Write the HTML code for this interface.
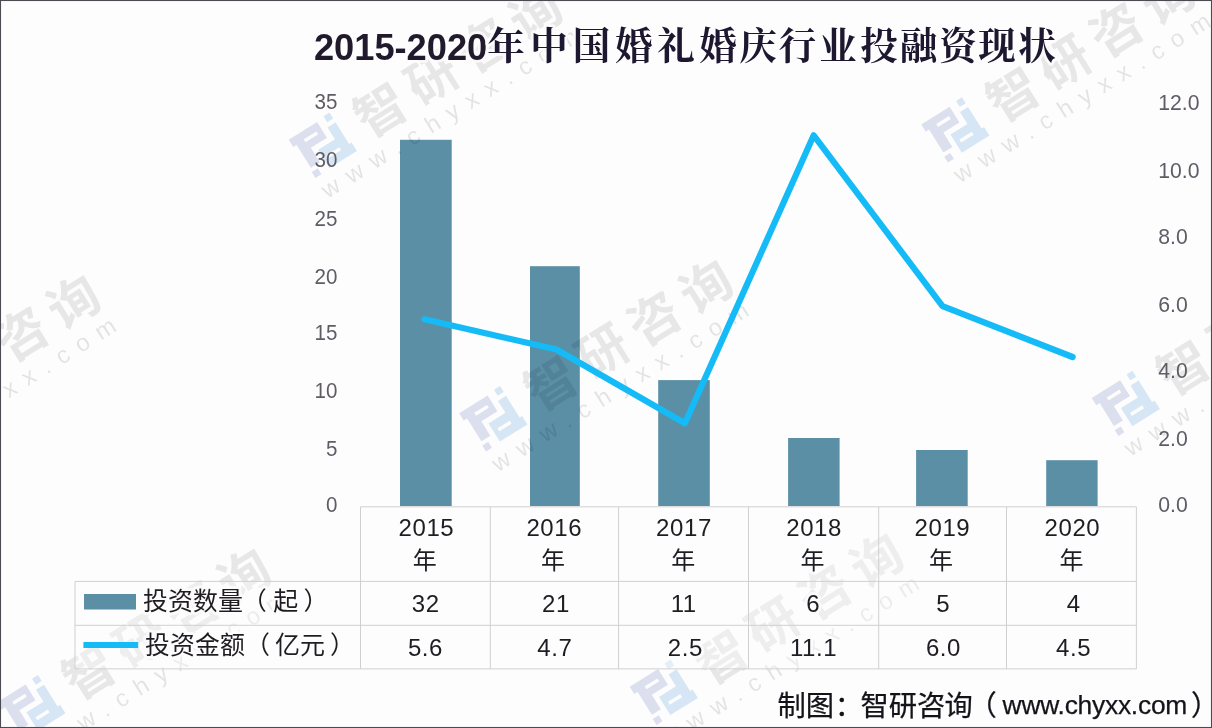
<!DOCTYPE html>
<html lang="zh-CN"><head><meta charset="utf-8"><title>2015-2020年中国婚礼婚庆行业投融资现状</title>
<style>
html,body{margin:0;padding:0;background:#fdfdfd;}
body{width:1212px;height:728px;overflow:hidden;position:relative;}
svg{position:absolute;left:0;top:0;display:block;}
.lat{font-family:"Liberation Sans",sans-serif;}
.cjk{font-family:"Liberation Sans","Noto Sans CJK SC",sans-serif;}
.ser{font-family:"Liberation Serif","Noto Serif CJK SC",serif;}
</style></head><body>
<svg width="1212" height="728" viewBox="0 0 1212 728" role="img" aria-label="2015-2020年中国婚礼婚庆行业投融资现状">
<rect x="0" y="0" width="1212" height="728" fill="#fdfdfd"/>
<g fill="#5a8fa6">
<rect x="400" y="139.8" width="51.7" height="366.2"/>
<rect x="530" y="266.2" width="49.8" height="239.8"/>
<rect x="658.2" y="380.1" width="51.6" height="125.9"/>
<rect x="788.1" y="438" width="51.5" height="68"/>
<rect x="916.1" y="450" width="51.6" height="56"/>
<rect x="1046.2" y="460.2" width="51.4" height="45.8"/>
</g>
<g>
<g transform="translate(322 145) rotate(-32)">
<path fill="rgb(42,68,162)" fill-opacity="0.16" fill-rule="evenodd" d="M-25.5,-22 H8 V-3.5 H-11 V13.5 H-21.5 V-13.5 H-25.5 Z M-12.5,-14.5 V-11 H2.5 V-14.5 Z M-23,17.5 h7 v7 h-7 Z"/>
<path fill="rgb(15,115,208)" fill-opacity="0.16" fill-rule="evenodd" d="M14,-12 H23.5 V13.5 H26.5 V23.5 H-6 V2 H14 Z M-1,11 V14.5 H13.5 V11 Z M16.5,-23.5 h7 v7 h-7 Z"/>
<text class="cjk" x="42.5" y="20" font-size="51" font-weight="bold" fill="#000" fill-opacity="0.088" letter-spacing="10">智研咨询</text>
<text class="lat" x="-24" y="48.7" font-size="24" fill="#000" fill-opacity="0.1" letter-spacing="10.6">www.chyxx.com</text>
</g>
<g transform="translate(954.5 129.6) rotate(-32)">
<path fill="rgb(42,68,162)" fill-opacity="0.16" fill-rule="evenodd" d="M-25.5,-22 H8 V-3.5 H-11 V13.5 H-21.5 V-13.5 H-25.5 Z M-12.5,-14.5 V-11 H2.5 V-14.5 Z M-23,17.5 h7 v7 h-7 Z"/>
<path fill="rgb(15,115,208)" fill-opacity="0.16" fill-rule="evenodd" d="M14,-12 H23.5 V13.5 H26.5 V23.5 H-6 V2 H14 Z M-1,11 V14.5 H13.5 V11 Z M16.5,-23.5 h7 v7 h-7 Z"/>
<text class="cjk" x="42.5" y="20" font-size="51" font-weight="bold" fill="#000" fill-opacity="0.088" letter-spacing="10">智研咨询</text>
<text class="lat" x="-24" y="48.7" font-size="24" fill="#000" fill-opacity="0.1" letter-spacing="10.6">www.chyxx.com</text>
</g>
<g transform="translate(-140 433.9) rotate(-32)">
<path fill="rgb(42,68,162)" fill-opacity="0.16" fill-rule="evenodd" d="M-25.5,-22 H8 V-3.5 H-11 V13.5 H-21.5 V-13.5 H-25.5 Z M-12.5,-14.5 V-11 H2.5 V-14.5 Z M-23,17.5 h7 v7 h-7 Z"/>
<path fill="rgb(15,115,208)" fill-opacity="0.16" fill-rule="evenodd" d="M14,-12 H23.5 V13.5 H26.5 V23.5 H-6 V2 H14 Z M-1,11 V14.5 H13.5 V11 Z M16.5,-23.5 h7 v7 h-7 Z"/>
<text class="cjk" x="42.5" y="20" font-size="51" font-weight="bold" fill="#000" fill-opacity="0.088" letter-spacing="10">智研咨询</text>
<text class="lat" x="-24" y="48.7" font-size="24" fill="#000" fill-opacity="0.1" letter-spacing="10.6">www.chyxx.com</text>
</g>
<g transform="translate(492.5 418.5) rotate(-32)">
<path fill="rgb(42,68,162)" fill-opacity="0.16" fill-rule="evenodd" d="M-25.5,-22 H8 V-3.5 H-11 V13.5 H-21.5 V-13.5 H-25.5 Z M-12.5,-14.5 V-11 H2.5 V-14.5 Z M-23,17.5 h7 v7 h-7 Z"/>
<path fill="rgb(15,115,208)" fill-opacity="0.16" fill-rule="evenodd" d="M14,-12 H23.5 V13.5 H26.5 V23.5 H-6 V2 H14 Z M-1,11 V14.5 H13.5 V11 Z M16.5,-23.5 h7 v7 h-7 Z"/>
<text class="cjk" x="42.5" y="20" font-size="51" font-weight="bold" fill="#000" fill-opacity="0.088" letter-spacing="10">智研咨询</text>
<text class="lat" x="-24" y="48.7" font-size="24" fill="#000" fill-opacity="0.1" letter-spacing="10.6">www.chyxx.com</text>
</g>
<g transform="translate(1125 403.1) rotate(-32)">
<path fill="rgb(42,68,162)" fill-opacity="0.16" fill-rule="evenodd" d="M-25.5,-22 H8 V-3.5 H-11 V13.5 H-21.5 V-13.5 H-25.5 Z M-12.5,-14.5 V-11 H2.5 V-14.5 Z M-23,17.5 h7 v7 h-7 Z"/>
<path fill="rgb(15,115,208)" fill-opacity="0.16" fill-rule="evenodd" d="M14,-12 H23.5 V13.5 H26.5 V23.5 H-6 V2 H14 Z M-1,11 V14.5 H13.5 V11 Z M16.5,-23.5 h7 v7 h-7 Z"/>
<text class="cjk" x="42.5" y="20" font-size="51" font-weight="bold" fill="#000" fill-opacity="0.088" letter-spacing="10">智研咨询</text>
<text class="lat" x="-24" y="48.7" font-size="24" fill="#000" fill-opacity="0.1" letter-spacing="10.6">www.chyxx.com</text>
</g>
<g transform="translate(30.5 707.4) rotate(-32)">
<path fill="rgb(42,68,162)" fill-opacity="0.16" fill-rule="evenodd" d="M-25.5,-22 H8 V-3.5 H-11 V13.5 H-21.5 V-13.5 H-25.5 Z M-12.5,-14.5 V-11 H2.5 V-14.5 Z M-23,17.5 h7 v7 h-7 Z"/>
<path fill="rgb(15,115,208)" fill-opacity="0.16" fill-rule="evenodd" d="M14,-12 H23.5 V13.5 H26.5 V23.5 H-6 V2 H14 Z M-1,11 V14.5 H13.5 V11 Z M16.5,-23.5 h7 v7 h-7 Z"/>
<text class="cjk" x="42.5" y="20" font-size="51" font-weight="bold" fill="#000" fill-opacity="0.088" letter-spacing="10">智研咨询</text>
<text class="lat" x="-24" y="48.7" font-size="24" fill="#000" fill-opacity="0.1" letter-spacing="10.6">www.chyxx.com</text>
</g>
<g transform="translate(663 692) rotate(-32)">
<path fill="rgb(42,68,162)" fill-opacity="0.16" fill-rule="evenodd" d="M-25.5,-22 H8 V-3.5 H-11 V13.5 H-21.5 V-13.5 H-25.5 Z M-12.5,-14.5 V-11 H2.5 V-14.5 Z M-23,17.5 h7 v7 h-7 Z"/>
<path fill="rgb(15,115,208)" fill-opacity="0.16" fill-rule="evenodd" d="M14,-12 H23.5 V13.5 H26.5 V23.5 H-6 V2 H14 Z M-1,11 V14.5 H13.5 V11 Z M16.5,-23.5 h7 v7 h-7 Z"/>
<text class="cjk" x="42.5" y="20" font-size="51" font-weight="bold" fill="#000" fill-opacity="0.088" letter-spacing="10">智研咨询</text>
<text class="lat" x="-24" y="48.7" font-size="24" fill="#000" fill-opacity="0.1" letter-spacing="10.6">www.chyxx.com</text>
</g>
</g>
<path d="M360.5,506.8 H1136.4 V668.9 H75 V581.4 H360.5 Z" fill="#fdfdfd" fill-opacity="0.35"/>
<g stroke="#d0d0d0" stroke-width="1" fill="none">
<line x1="360.5" y1="506.8" x2="1136.4" y2="506.8"/>
<line x1="75" y1="581.4" x2="1136.4" y2="581.4"/>
<line x1="75" y1="625.3" x2="1136.4" y2="625.3"/>
<line x1="75" y1="668.9" x2="1136.4" y2="668.9"/>
<line x1="360.5" y1="506.8" x2="360.5" y2="668.9"/>
<line x1="490.3" y1="506.8" x2="490.3" y2="668.9"/>
<line x1="618.6" y1="506.8" x2="618.6" y2="668.9"/>
<line x1="748.5" y1="506.8" x2="748.5" y2="668.9"/>
<line x1="878.7" y1="506.8" x2="878.7" y2="668.9"/>
<line x1="1006.5" y1="506.8" x2="1006.5" y2="668.9"/>
<line x1="1136.4" y1="506.8" x2="1136.4" y2="668.9"/>
<line x1="75" y1="581.4" x2="75" y2="668.9"/>
</g>
<polyline points="424.5,319.3 556.5,349.5 684.9,423.2 813.7,135.3 942.5,306.2 1072.6,357" fill="none" stroke="#14bbf6" stroke-width="6.2" stroke-linejoin="round" stroke-linecap="round"/>
<rect x="84" y="594" width="52" height="15.5" fill="#5a8fa6"/>
<line x1="83.4" y1="645" x2="138.2" y2="645" stroke="#14bbf6" stroke-width="6" stroke-linecap="butt"/>
<text class="lat" x="313.9" y="59.8" font-size="36.8" font-weight="bold" fill="#211a2c" textLength="173.4" lengthAdjust="spacingAndGlyphs" stroke="#fdfdfd" stroke-opacity="0.8" stroke-width="6" stroke-linejoin="round" paint-order="stroke">2015-2020</text>
<text class="ser" x="487.25 530.25 572.75 614.95 657.25 699.25 739.25 778.85 819.25 860.25 899.75 939.25 978.25 1018.25" y="59.4" font-size="37.5" font-weight="bold" fill="#1d1830" stroke="#fdfdfd" stroke-opacity="0.8" stroke-width="6" stroke-linejoin="round" paint-order="stroke">年中国婚礼婚庆行业投融资现状</text>
<g class="lat" font-size="22.6" fill="#605c66" text-anchor="end">
<text transform="translate(337.5 512) scale(0.911 1)">0</text>
<text transform="translate(337.5 456) scale(0.911 1)">5</text>
<text transform="translate(337.5 398) scale(0.911 1)">10</text>
<text transform="translate(337.5 340.1) scale(0.911 1)">15</text>
<text transform="translate(337.5 283.8) scale(0.911 1)">20</text>
<text transform="translate(337.5 226.2) scale(0.911 1)">25</text>
<text transform="translate(337.5 167.1) scale(0.911 1)">30</text>
<text transform="translate(337.5 109) scale(0.911 1)">35</text>
</g>
<g class="lat" font-size="22.6" fill="#605c66">
<text transform="translate(1158.2 512) scale(0.938 1)">0.0</text>
<text transform="translate(1158.2 446.1) scale(0.938 1)">2.0</text>
<text transform="translate(1158.2 378) scale(0.938 1)">4.0</text>
<text transform="translate(1158.2 311.9) scale(0.938 1)">6.0</text>
<text transform="translate(1158.2 243.9) scale(0.938 1)">8.0</text>
<text transform="translate(1158.2 177.7) scale(0.938 1)">10.0</text>
<text transform="translate(1158.2 110) scale(0.938 1)">12.0</text>
</g>
<g class="lat" font-size="24" letter-spacing="0.6" fill="#1f1c22" text-anchor="middle" stroke="#fdfdfd" stroke-opacity="0.8" stroke-width="6" stroke-linejoin="round" paint-order="stroke">
<text x="426.4" y="536.4">2015</text>
<text x="425.8" y="611.8">32</text>
<text x="425.5" y="656.1">5.6</text>
<text x="554.3" y="536.4">2016</text>
<text x="555.9" y="611.8">21</text>
<text x="554.8" y="656.1">4.7</text>
<text x="684" y="536.4">2017</text>
<text x="683.7" y="611.8">11</text>
<text x="685.3" y="656.1">2.5</text>
<text x="814.1" y="536.4">2018</text>
<text x="813.3" y="611.8">6</text>
<text x="813.6" y="656.1">11.1</text>
<text x="942.4" y="536.4">2019</text>
<text x="943.3" y="611.8">5</text>
<text x="943.5" y="656.1">6.0</text>
<text x="1072.4" y="536.4">2020</text>
<text x="1073.8" y="611.8">4</text>
<text x="1073.6" y="656.1">4.5</text>
</g>
<g class="cjk" font-size="24" fill="#1f1c22" text-anchor="middle" stroke="#fdfdfd" stroke-opacity="0.8" stroke-width="6" stroke-linejoin="round" paint-order="stroke">
<text x="424.8" y="569.4">年</text>
<text x="553" y="569.4">年</text>
<text x="683.2" y="569.4">年</text>
<text x="812.6" y="569.4">年</text>
<text x="941.1" y="569.4">年</text>
<text x="1071.4" y="569.4">年</text>
</g>
<g class="cjk" font-size="25" fill="#1f1c22" stroke="#fdfdfd" stroke-opacity="0.8" stroke-width="6" stroke-linejoin="round" paint-order="stroke">
<text x="143 168 193 218 241.8 273.3 303.5" y="610">投资数量（起）</text>
<text x="145 170 195 220 245 275 300 330" y="654">投资金额（亿元）</text>
</g>
<text class="cjk" y="715.9" font-size="28.3" fill="#15131a" stroke="#15131a" stroke-width="0.25"><tspan x="777.4 805.7 834.8 860.4 888.7 917 944.4 968.5">制图：智研咨询（</tspan><tspan class="lat" x="1002.6" y="713.5" font-size="26.4" letter-spacing="-0.25">www.chyxx.com</tspan><tspan x="1191" y="715.9">）</tspan></text>
<rect x="0.5" y="0.5" width="1211" height="727" fill="none" stroke="#4c4b52" stroke-width="1.1"/>
</svg>
</body></html>
